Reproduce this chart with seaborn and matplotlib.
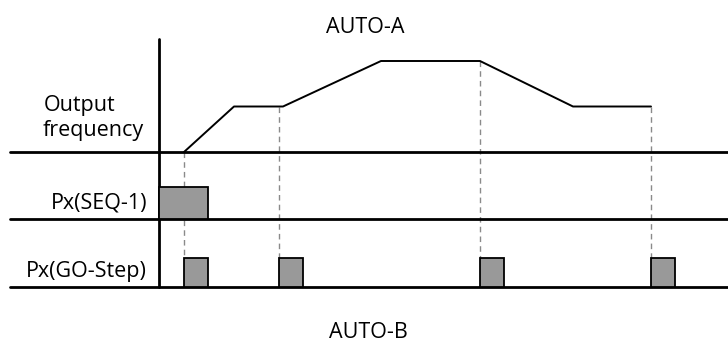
import matplotlib
matplotlib.use("Agg")
import matplotlib.pyplot as plt
import seaborn as sns
import pandas as pd

# ---- data ----
freq_time = [25, 75, 124, 222, 321, 414, 492]       # time points of the output frequency trace
freq_level = [0, 1, 1, 2, 2, 1, 1]                   # frequency level (steps)
seq_on = [0]                                          # Px(SEQ-1) pulse start
seq_width = [49]
go_on = [25, 120, 321, 492]                           # Px(GO-Step) pulse starts
go_width = [24, 24, 24, 24]
dash_time = [25, 120, 321, 492]
dash_level = [0, 1, 2, 1]
row_labels = ["Output", "frequency", "Px(SEQ-1)", "Px(GO-Step)"]
titles = ["AUTO-A", "AUTO-B"]

sns.set_theme(style="white")
plt.rcParams["font.family"] = ["Open Sans", "DejaVu Sans"]
plt.rcParams["text.color"] = "black"

fig = plt.figure(figsize=(7.28, 3.45), dpi=100)
ax = fig.add_axes([0, 0, 1, 1])
ax.set_xlim(-159, 569)
ax.set_ylim(-58, 287)
ax.axis("off")

# layout constants (pixel-like units)
FREQ_BASE, SEQ_BASE, GO_BASE = 135, 68, 0
LEVEL_UNIT = 45.5
SEQ_H, GO_H = 32, 29

# frequency trace
df = pd.DataFrame({"t": freq_time, "f": [FREQ_BASE + v * LEVEL_UNIT for v in freq_level]})
sns.lineplot(data=df, x="t", y="f", ax=ax, color="black", linewidth=1.4, sort=False)

# dashed guide lines
for t, lv in zip(dash_time, dash_level):
    ax.plot([t, t], [FREQ_BASE + lv * LEVEL_UNIT, GO_BASE + GO_H], color="#8a8a8a",
            linewidth=1.0, linestyle=(0, (4, 3)), zorder=1)

# pulses
ax.bar(seq_on, [SEQ_H] * len(seq_on), width=seq_width, bottom=SEQ_BASE, align="edge",
       color="#999999", edgecolor="black", linewidth=1.3, zorder=3)
ax.bar(go_on, [GO_H] * len(go_on), width=go_width, bottom=GO_BASE, align="edge",
       color="#999999", edgecolor="black", linewidth=1.3, zorder=3)

# baselines and vertical axis
for yb in (FREQ_BASE, SEQ_BASE, GO_BASE):
    ax.plot([-149, 569], [yb, yb], color="black", linewidth=2.0, zorder=2)
ax.plot([0, 0], [GO_BASE, 248], color="black", linewidth=2.0, zorder=2)

# text
fs = 15.5
ax.text(-115, 176, row_labels[0], fontsize=fs, ha="left", va="baseline")
ax.text(-116, 151, row_labels[1], fontsize=fs, ha="left", va="baseline")
ax.text(-12, 79, row_labels[2], fontsize=fs, ha="right", va="baseline")
ax.text(-12, 10, row_labels[3], fontsize=fs, ha="right", va="baseline")
ax.text(206, 254, titles[0], fontsize=fs, ha="center", va="baseline")
ax.text(209, -51, titles[1], fontsize=fs, ha="center", va="baseline")

fig.savefig("out.png", dpi=100)
